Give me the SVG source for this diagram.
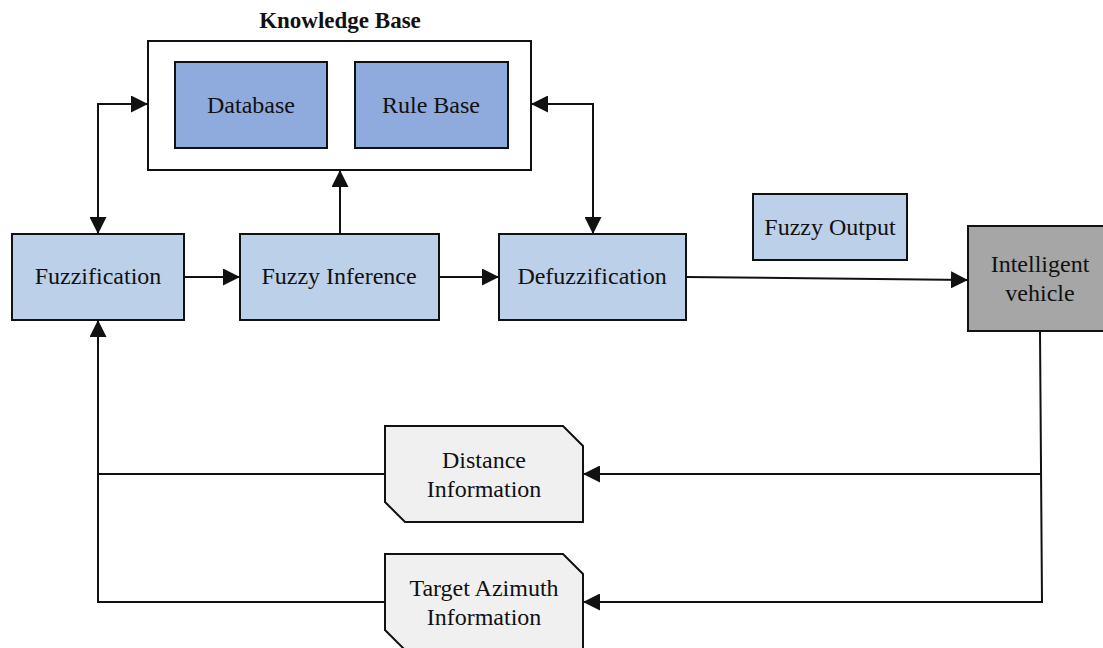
<svg xmlns="http://www.w3.org/2000/svg" width="1103" height="648" viewBox="0 0 1103 648">
<defs>
<style>
text{font-family:"Liberation Serif","Times New Roman",serif;font-size:24px;fill:#111;text-anchor:middle}
.lb{fill:#bdd0e9;stroke:#111;stroke-width:2}
.db{fill:#8faadc;stroke:#111;stroke-width:2}
.gy{fill:#f0f0f0;stroke:#111;stroke-width:2}
.ln{fill:none;stroke:#111;stroke-width:2}
</style>
<marker id="ah" viewBox="0 0 10 10" refX="10" refY="5" markerWidth="17" markerHeight="17" markerUnits="userSpaceOnUse" orient="auto-start-reverse"><path d="M0,0L10,5L0,10z" fill="#111"/></marker>
</defs>
<g id="kb">
<text x="340" y="28" style="font-weight:bold;font-size:23px">Knowledge Base</text>
<rect x="148" y="41" width="383" height="129" fill="#fff" stroke="#111" stroke-width="2"/>
</g>
<g id="database"><rect class="db" x="175" y="62" width="152" height="86"/><text x="251" y="113">Database</text></g>
<g id="rulebase"><rect class="db" x="355" y="62" width="153" height="86"/><text x="431" y="113">Rule Base</text></g>
<g id="fuzzification"><rect class="lb" x="12" y="234" width="172" height="86"/><text x="98" y="284">Fuzzification</text></g>
<g id="inference"><rect class="lb" x="240" y="234" width="199" height="86"/><text x="339" y="284">Fuzzy Inference</text></g>
<g id="defuzz"><rect class="lb" x="499" y="234" width="187" height="86"/><text x="592" y="284">Defuzzification</text></g>
<g id="fuzzyout"><rect class="lb" x="753" y="194" width="154" height="66"/><text x="830" y="235">Fuzzy Output</text></g>
<g id="vehicle"><rect x="968" y="226" width="136" height="105" fill="#a6a6a6" stroke="#111" stroke-width="2"/><text x="1040" y="272">Intelligent</text><text x="1040" y="301">vehicle</text></g>
<g id="distance"><path class="gy" d="M385,426H563L583,446V522H405L385,502Z"/><text x="484" y="468">Distance</text><text x="484" y="497">Information</text></g>
<g id="azimuth"><path class="gy" d="M385,554H563L583,574V650H405L385,630Z"/><text x="484" y="596">Target Azimuth</text><text x="484" y="625">Information</text></g>
<g id="connectors">
<path class="ln" d="M98,234V104H148" marker-start="url(#ah)" marker-end="url(#ah)"/>
<path class="ln" d="M340,234V170" marker-end="url(#ah)"/>
<path class="ln" d="M531,104H593V234" marker-start="url(#ah)" marker-end="url(#ah)"/>
<path class="ln" d="M184,277H240" marker-end="url(#ah)"/>
<path class="ln" d="M439,277H499" marker-end="url(#ah)"/>
<path class="ln" d="M686,277L968,280" marker-end="url(#ah)"/>
<path class="ln" d="M1040,331L1042,602H583" marker-end="url(#ah)"/>
<path class="ln" d="M1041,474H583" marker-end="url(#ah)"/>
<path class="ln" d="M385,474H98"/>
<path class="ln" d="M385,602H98V320" marker-end="url(#ah)"/>
</g>
</svg>
